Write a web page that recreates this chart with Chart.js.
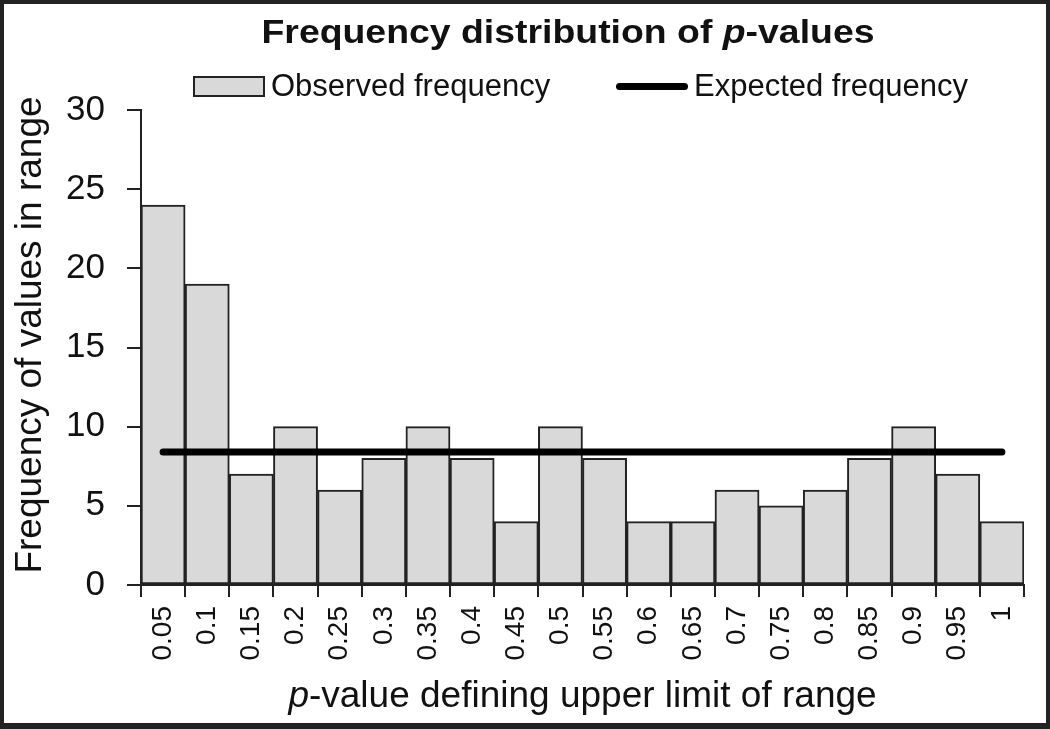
<!DOCTYPE html>
<html>
<head>
<meta charset="utf-8">
<script src="https://cdn.jsdelivr.net/npm/chart.js@4.4.1/dist/chart.umd.min.js"></script>
<style>
    body { margin: 0; background: #fff; }
    #wrap { position: relative; width: 1050px; height: 729px; font-family: "Liberation Sans", Arial, sans-serif; color: #111; }
    #frame { position: absolute; left: 0; top: 0; width: 1050px; height: 729px; box-sizing: border-box; border: 4px solid #222; border-bottom-width: 6px; pointer-events: none; }
    canvas { position: absolute; left: 0; top: 0; }
    #title { position: absolute; left: 268px; width: 600px; top: 14px; line-height: 34px; text-align: center; font-weight: bold; font-size: 34px; white-space: nowrap; transform: scaleX(1.1); }
    .legend-item { position: absolute; top: 68px; font-size: 31px; display: flex; align-items: center; white-space: nowrap; }
    .swatch-box { width: 68px; height: 17px; background: #d9d9d9; border: 2px solid #222; margin-right: 6px; }
    .swatch-line { width: 72px; height: 7px; background: #000; border-radius: 4px; margin-right: 6px; }
    #xtitle { position: absolute; left: 141px; width: 883px; top: 676px; line-height: 37px; text-align: center; font-size: 37px; white-space: nowrap; }
    #ytitle { position: absolute; left: -271px; top: 315px; width: 600px; height: 40px; line-height: 40px; text-align: center; font-size: 37px; white-space: nowrap; transform: rotate(-90deg); }
</style>
</head>
<body>
<div id="wrap">
    <canvas id="histChart" width="1050" height="729"></canvas>
    <div id="title">Frequency distribution of <i>p</i>-values</div>
    <div class="legend-item" style="left:193px"><div class="swatch-box"></div>Observed frequency</div>
    <div class="legend-item" style="left:616px"><div class="swatch-line"></div>Expected frequency</div>
    <div id="ytitle">Frequency of values in range</div>
    <div id="xtitle"><i>p</i>-value defining upper limit of range</div>
    <div id="frame"></div>
</div>
<script>
const categories = ['0.05', '0.1', '0.15', '0.2', '0.25', '0.3', '0.35', '0.4', '0.45', '0.5',
                    '0.55', '0.6', '0.65', '0.7', '0.75', '0.8', '0.85', '0.9', '0.95', '1'];
const observed = [24, 19, 7, 10, 6, 8, 10, 8, 4, 10, 8, 4, 4, 6, 5, 6, 8, 10, 7, 4];
const expected = [8.4, 8.4, 8.4, 8.4, 8.4, 8.4, 8.4, 8.4, 8.4, 8.4,
                  8.4, 8.4, 8.4, 8.4, 8.4, 8.4, 8.4, 8.4, 8.4, 8.4];
const yTicks = [0, 5, 10, 15, 20, 25, 30];

const ctx = document.getElementById('histChart').getContext('2d');
new Chart(ctx, {
    type: 'bar',
    data: {
        labels: categories,
        datasets: [
            {
                type: 'line',
                label: 'Expected frequency',
                data: expected,
                borderColor: '#000',
                borderWidth: 7,
                borderCapStyle: 'round',
                pointRadius: 0,
                fill: false,
                order: 0
            },
            {
                label: 'Observed frequency',
                data: observed,
                backgroundColor: '#d9d9d9',
                borderColor: '#222',
                borderWidth: 2,
                borderSkipped: false,
                categoryPercentage: 1.0,
                barPercentage: 1.0,
                order: 1
            }
        ]
    },
    options: {
        responsive: false,
        animation: false,
        layout: { padding: { left: 0, right: 26, top: 110, bottom: 0 } },
        plugins: {
            legend: { display: false },
            title: { display: false },
            tooltip: { enabled: false }
        },
        scales: {
            x: {
                afterFit: scale => { scale.height = 144; },
                grid: { offset: true, drawOnChartArea: false, drawTicks: true, tickLength: 12, color: '#222', lineWidth: 2 },
                border: { color: '#222', width: 2 },
                ticks: {
                    color: '#111',
                    font: { family: '"Liberation Sans", Arial, sans-serif', size: 28 },
                    minRotation: 90, maxRotation: 90,
                    padding: 9,
                    autoSkip: false
                }
            },
            y: {
                min: 0, max: 30,
                afterFit: scale => { scale.width = 141; },
                afterBuildTicks: scale => { scale.ticks = yTicks.map(v => ({ value: v })); },
                grid: { drawOnChartArea: false, drawTicks: true, tickLength: 14, color: '#222', lineWidth: 2 },
                border: { color: '#222', width: 2 },
                ticks: {
                    color: '#111',
                    font: { family: '"Liberation Sans", Arial, sans-serif', size: 35 },
                    padding: 22
                }
            }
        }
    }
});
</script>
</body>
</html>
